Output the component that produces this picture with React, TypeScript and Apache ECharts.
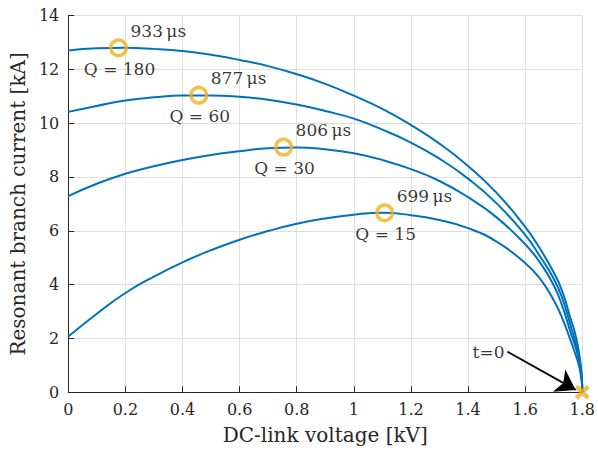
import React, { useEffect, useRef } from "react";
import * as echarts from "echarts";

// DC-link voltage samples [kV] shared by all trajectories
const voltage = [0, 0.1, 0.2, 0.3, 0.4, 0.5, 0.6, 0.7, 0.8, 0.9, 1.0, 1.1, 1.2, 1.3, 1.4, 1.5, 1.6, 1.65, 1.7, 1.73, 1.76, 1.77, 1.78, 1.785, 1.79, 1.793, 1.797, 1.799, 1.8];

// Resonant branch current [kA] per quality factor
const currentQ180 = [12.7, 12.78, 12.8, 12.76, 12.68, 12.54, 12.35, 12.12, 11.82, 11.46, 11.02, 10.53, 9.93, 9.24, 8.41, 7.41, 6.15, 5.37, 4.45, 3.75, 2.7, 2.39, 1.95, 1.69, 1.38, 1.15, 0.75, 0.44, 0];
const currentQ60 = [10.42, 10.64, 10.84, 10.96, 11.03, 11.03, 10.98, 10.87, 10.69, 10.45, 10.17, 9.76, 9.28, 8.68, 7.94, 7.02, 5.85, 5.08, 4.22, 3.5, 2.45, 2.1, 1.72, 1.49, 1.22, 1.02, 0.67, 0.39, 0];
const currentQ30 = [7.29, 7.75, 8.12, 8.4, 8.63, 8.82, 8.96, 9.07, 9.1, 9.03, 8.88, 8.63, 8.29, 7.85, 7.25, 6.5, 5.5, 4.85, 3.98, 3.2, 2.2, 1.9, 1.55, 1.35, 1.08, 0.92, 0.6, 0.35, 0];
const currentQ15 = [2.07, 2.92, 3.69, 4.3, 4.83, 5.28, 5.67, 5.99, 6.26, 6.46, 6.6, 6.67, 6.58, 6.4, 6.1, 5.6, 4.8, 4.25, 3.42, 2.75, 1.9, 1.6, 1.3, 1.13, 0.92, 0.77, 0.5, 0.29, 0];

// Peak markers
const peakVoltage = [0.176, 0.457, 0.754, 1.108];
const peakCurrent = [12.8, 11.04, 9.11, 6.67];
const peakTimes = ["933\u2009μs", "877\u2009μs", "806\u2009μs", "699\u2009μs"];
const qLabels = ["Q = 180", "Q = 60", "Q = 30", "Q = 15"];

// Start point t=0 and annotation arrow
const startPoint = [1.8, 0];
const arrowTail = [1.538, 1.51];
const arrowHead = [1.777, 0.09];

const BLUE = "#0072BD";
const ORANGE = "#EDB120";
const FONT = "DejaVu Serif";
const AXIS = "#262626";

const xCross =
  "path://M3,0 L7,4 L11,0 L14,3 L10,7 L14,11 L11,14 L7,10 L3,14 L0,11 L4,7 L0,3 Z";

function curve(values: number[]) {
  return voltage.map((v, i) => [v, values[i]]);
}

export default function App() {
  const ref = useRef<HTMLDivElement>(null);
  useEffect(() => {
    if (!ref.current) return;
    const chart = echarts.init(ref.current, null, { renderer: "svg" });
    const lineSeries = [currentQ180, currentQ60, currentQ30, currentQ15].map((vals) => ({
      type: "line",
      data: curve(vals),
      showSymbol: false,
      smooth: 0.5,
      clip: false,
      lineStyle: { color: BLUE, width: 2 },
      z: 2,
      silent: true,
    }));
    chart.setOption({
      animation: false,
      grid: { left: 67.3, right: 15.3, top: 15.5, bottom: 61.7, containLabel: false },
      xAxis: {
        type: "value",
        min: 0,
        max: 1.8,
        interval: 0.2,
        name: "DC-link voltage [kV]",
        nameLocation: "middle",
        nameGap: 33,
        nameTextStyle: { fontFamily: FONT, fontSize: 20, color: AXIS },
        axisLine: { show: true, lineStyle: { color: AXIS, width: 1 } },
        axisTick: { show: true, inside: true, length: 6, lineStyle: { color: AXIS } },
        axisLabel: { fontFamily: FONT, fontSize: 16, color: AXIS, margin: 9 },
        splitLine: { show: true, lineStyle: { color: "#dfdfdf", width: 1 } },
      },
      yAxis: {
        type: "value",
        min: 0,
        max: 14,
        interval: 2,
        name: "Resonant branch current [kA]",
        nameLocation: "middle",
        nameGap: 36,
        nameTextStyle: { fontFamily: FONT, fontSize: 20, color: AXIS },
        axisLine: { show: true, lineStyle: { color: AXIS, width: 1 } },
        axisTick: { show: true, inside: true, length: 6, lineStyle: { color: AXIS } },
        axisLabel: { fontFamily: FONT, fontSize: 16, color: AXIS, margin: 9 },
        splitLine: { show: true, lineStyle: { color: "#dfdfdf", width: 1 } },
      },
      series: [
        ...lineSeries,
        {
          type: "scatter",
          data: peakVoltage.map((v, i) => [v, peakCurrent[i]]),
          symbol: "circle",
          symbolSize: 15.5,
          clip: false,
          z: 5,
          itemStyle: { color: "rgba(0,0,0,0)", borderColor: ORANGE, borderWidth: 3.6 },
          label: {
            show: true,
            position: "inside",
            align: "left",
            verticalAlign: "middle",
            offset: [12, -17],
            formatter: (p: any) => peakTimes[p.dataIndex],
            fontFamily: FONT,
            fontSize: 17,
            color: "#000",
          },
        },
        {
          type: "scatter",
          data: peakVoltage.map((v, i) => [v, peakCurrent[i]]),
          symbolSize: 0,
          clip: false,
          z: 6,
          label: {
            show: true,
            position: "inside",
            align: "center",
            verticalAlign: "middle",
            offset: [1, 21],
            formatter: (p: any) => qLabels[p.dataIndex],
            fontFamily: FONT,
            fontSize: 17,
            color: "#000",
          },
        },
        {
          type: "scatter",
          data: [arrowTail],
          symbolSize: 0,
          clip: false,
          label: {
            show: true,
            position: "left",
            distance: 3,
            formatter: "t=0",
            fontFamily: FONT,
            fontSize: 17,
            color: "#000",
          },
          markLine: {
            silent: true,
            symbol: ["none", "arrow"],
            symbolSize: 19,
            label: { show: false },
            lineStyle: { color: "#000", width: 1.8, type: "solid" },
            itemStyle: { color: "#000" },
            data: [[{ coord: arrowTail }, { coord: arrowHead }]],
          },
        },
        {
          type: "scatter",
          data: [startPoint],
          symbol: xCross,
          symbolSize: 15,
          clip: false,
          z: 7,
          itemStyle: { color: ORANGE },
        },
      ],
    });
    return () => chart.dispose();
  }, []);
  return (
    <div
      ref={ref}
      style={{ position: "absolute", left: 0, top: 0, width: 598, height: 454 }}
    />
  );
}
